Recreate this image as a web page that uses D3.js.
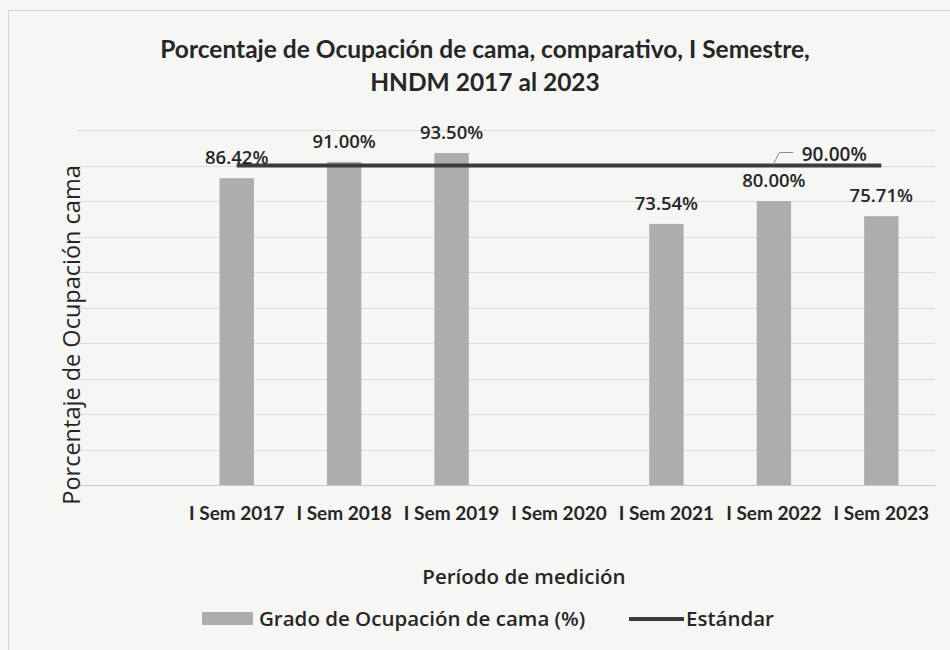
<!DOCTYPE html>
<html>
<head>
<meta charset="utf-8">
<script src="https://cdn.jsdelivr.net/npm/d3@7"></script>
<style>
  body { margin: 0; background: #f6f6f5; }
  svg { display: block; }
</style>
</head>
<body>
<svg id="chart" width="950" height="650"></svg>
<script>
// chart data
var periods = ["I Sem 2017", "I Sem 2018", "I Sem 2019", "I Sem 2020", "I Sem 2021", "I Sem 2022", "I Sem 2023"];
var occupancy = [86.42, 91.00, 93.50, null, 73.54, 80.00, 75.71];
var standard = [90, 90, 90, 90, 90, 90, 90];
var yTicks = [0, 10, 20, 30, 40, 50, 60, 70, 80, 90, 100];

var titleLines = ["Porcentaje de Ocupación de cama, comparativo, I Semestre,", "HNDM 2017 al 2023"];
var yTitle = "Porcentaje de Ocupación cama";
var xTitle = "Período de medición";
var legendNames = ["Grado de Ocupación de cama (%)", "Estándar"];

var barColor = "#adadad";
var lineColor = "#3c3c3c";
var textColor = "#262626";

window.onload = function()
{
  drawChart();
}

function drawChart()
{
  var svg = d3.select("#chart");

  // frame of the scanned chart
  svg.append("rect")
    .attr("x", 8.5).attr("y", 10.5)
    .attr("width", 950).attr("height", 650)
    .attr("fill", "none")
    .attr("stroke", "#d4d4d4");

  var gridLeft = 77, gridRight = 935;

  var x = d3.scaleBand()
    .domain(periods)
    .range([183, 935])
    .paddingInner(0.68)
    .paddingOuter(0.34);

  var y = d3.scaleLinear()
    .domain([0, 100])
    .range([485, 130]);

  // horizontal gridlines
  svg.append("g")
    .selectAll("line")
    .data(yTicks)
    .enter().append("line")
    .attr("x1", gridLeft).attr("x2", gridRight)
    .attr("y1", function(d) { return Math.round(y(d)) + 0.5; })
    .attr("y2", function(d) { return Math.round(y(d)) + 0.5; })
    .attr("stroke", function(d) { return d == 0 ? "#c8c8c8" : "#dcdcdc"; })
    .attr("stroke-width", 1.2);

  // x axis labels only, no ticks or domain
  var xAxis = svg.append("g")
    .attr("transform", "translate(0," + y(0) + ")")
    .call(d3.axisBottom(x).tickSize(0).tickPadding(22));
  xAxis.select(".domain").remove();
  xAxis.selectAll("text")
    .attr("fill", textColor)
    .style("font-family", "Lato, sans-serif")
    .style("font-weight", "700")
    .style("font-size", "19px");

  // bars
  var bars = periods.map(function(p, i) { return { period: p, value: occupancy[i] }; })
    .filter(function(d) { return d.value != null; });

  svg.append("g")
    .selectAll("rect")
    .data(bars)
    .enter().append("rect")
    .attr("x", function(d) { return x(d.period); })
    .attr("y", function(d) { return y(d.value); })
    .attr("width", x.bandwidth())
    .attr("height", function(d) { return y(0) - y(d.value); })
    .attr("fill", barColor);

  // standard line
  var stdData = periods.map(function(p, i) { return { period: p, value: standard[i] }; });
  var line = d3.line()
    .x(function(d) { return x(d.period) + x.bandwidth() / 2; })
    .y(function(d) { return y(d.value); });

  svg.append("path")
    .datum(stdData)
    .attr("d", line)
    .attr("fill", "none")
    .attr("stroke", lineColor)
    .attr("stroke-width", 4);

  // bar value labels
  svg.append("g")
    .selectAll("text")
    .data(bars)
    .enter().append("text")
    .attr("x", function(d) { return x(d.period) + x.bandwidth() / 2; })
    .attr("y", function(d) { return y(d.value) - 14; })
    .attr("text-anchor", "middle")
    .attr("fill", textColor)
    .style("font-family", "'Open Sans', sans-serif")
    .style("font-weight", "600")
    .style("font-size", "18.5px")
    .text(function(d) { return d.value.toFixed(2) + "%"; });

  // label of the standard, with its leader line
  var last = stdData[stdData.length - 1];
  var lx = x(last.period) + x.bandwidth() / 2 - 108;
  var ly = y(last.value);
  svg.append("path")
    .attr("d", "M" + lx + "," + (ly - 1) + "L" + (lx + 6) + "," + (ly - 13) + "L" + (lx + 20) + "," + (ly - 13))
    .attr("fill", "none")
    .attr("stroke", "#8a8a8a")
    .attr("stroke-width", 1);
  svg.append("text")
    .attr("x", lx + 61)
    .attr("y", ly - 5)
    .attr("text-anchor", "middle")
    .attr("fill", textColor)
    .style("font-family", "'Open Sans', sans-serif")
    .style("font-weight", "600")
    .style("font-size", "19px")
    .text(last.value.toFixed(2) + "%");

  // chart title
  svg.append("text")
    .attr("x", 485)
    .attr("y", 58)
    .attr("text-anchor", "middle")
    .attr("fill", textColor)
    .style("font-family", "Lato, sans-serif")
    .style("font-weight", "700")
    .style("font-size", "24.5px")
    .selectAll("tspan")
    .data(titleLines)
    .enter().append("tspan")
    .attr("x", 485)
    .attr("dy", function(d, i) { return i == 0 ? 0 : 33; })
    .text(function(d) { return d; });

  // y axis title
  svg.append("text")
    .attr("transform", "translate(80,335) rotate(-90)")
    .attr("text-anchor", "middle")
    .attr("fill", textColor)
    .style("font-family", "'Open Sans', sans-serif")
    .style("font-weight", "500")
    .style("font-size", "23.5px")
    .text(yTitle);

  // x axis title
  svg.append("text")
    .attr("x", 524)
    .attr("y", 584)
    .attr("text-anchor", "middle")
    .attr("fill", textColor)
    .style("font-family", "'Open Sans', sans-serif")
    .style("font-weight", "600")
    .style("font-size", "20.5px")
    .text(xTitle);

  // legend
  var legend = svg.append("g").attr("transform", "translate(0,619)");
  legend.append("rect")
    .attr("x", 202).attr("y", -7)
    .attr("width", 51).attr("height", 13)
    .attr("fill", barColor);
  legend.append("text")
    .attr("x", 259).attr("y", 7)
    .attr("fill", textColor)
    .style("font-family", "'Open Sans', sans-serif")
    .style("font-weight", "600")
    .style("font-size", "20.5px")
    .text(legendNames[0]);
  legend.append("line")
    .attr("x1", 629).attr("x2", 684)
    .attr("y1", 0).attr("y2", 0)
    .attr("stroke", lineColor)
    .attr("stroke-width", 4);
  legend.append("text")
    .attr("x", 686).attr("y", 7)
    .attr("fill", textColor)
    .style("font-family", "'Open Sans', sans-serif")
    .style("font-weight", "600")
    .style("font-size", "20.5px")
    .text(legendNames[1]);
}
</script>
</body>
</html>
